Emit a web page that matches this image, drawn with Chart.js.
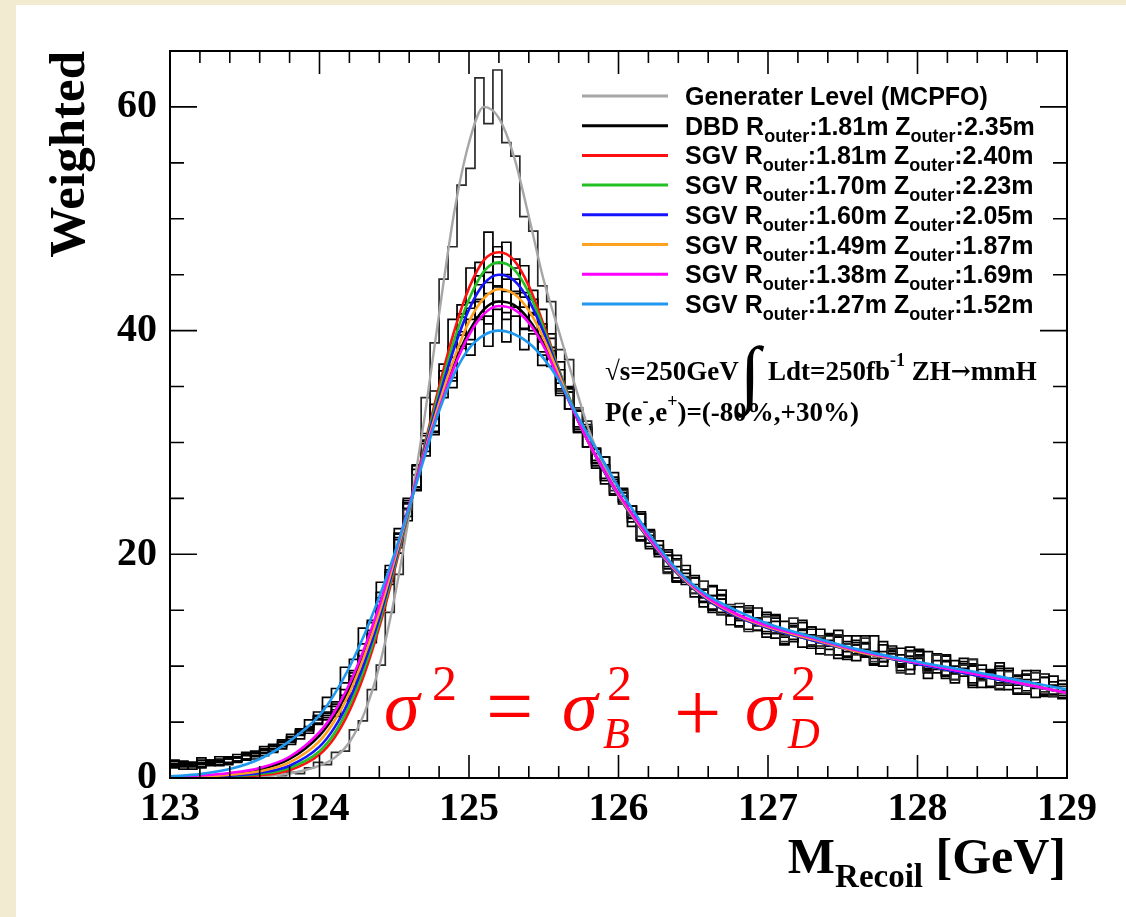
<!DOCTYPE html>
<html>
<head>
<meta charset="utf-8">
<title>M Recoil</title>
<script src="https://cdn.jsdelivr.net/npm/chart.js@4.4.1/dist/chart.umd.min.js"></script>
<style>
  html, body { margin: 0; padding: 0; background: #f3ead2; }
  #paper { position: absolute; left: 16px; top: 5px; right: 0; bottom: 0; background: #fff; }
  canvas { position: absolute; left: 0; top: 0; }
</style>
</head>
<body>
<div id="paper"></div>
<canvas id="recoil" width="1126" height="917"></canvas>
<script>
// histogram binning: 100 bins of 0.06 GeV from 123 GeV
const binStart = 123.0;
const binWidth = 0.06;

// generator level histogram (MCPFO)
const genHist = [0, 0, 0, 0, 0, 0, 0.1, 0, 0.1, 0.2, 0.1, 0.3, 0.2, 0.5, 0.4, 0.9, 1.4,
  1.2, 2.3, 2.4, 4.3, 5.1, 7.9, 10.1, 14.8, 18.2,
  24.0, 27.1, 34.0, 38.9, 44.6, 47.5, 53.0, 54.5, 62.6, 58.5, 63.3, 56.8, 55.6, 50.2, 48.9, 44.0, 42.6, 38.3, 37.4, 33.1, 31.9, 29.0,
  27.9, 25.7, 25.7, 23.5, 21.6, 22.0, 20.5, 18.3, 19.5, 18.0, 16.5, 17.6, 15.6, 14.6, 15.5, 15.6, 13.1, 14.2, 14.4, 13.0,
  12.2, 14.3, 12.9, 11.9, 12.7, 11.0, 12.8, 12.0, 11.0, 12.5, 10.4, 10.8, 11.5, 9.4, 11.3, 10.8, 9.5, 11.0, 9.6, 8.8,
  10.1, 10.6, 8.7, 9.2, 8.0, 9.5, 8.9, 7.6, 9.4, 7.7, 7.3, 8.2];
// DBD full simulation
const dbdHist = [1.2, 0.8, 1.4, 1.0, 1.5, 1.1, 1.8, 1.4, 2.2, 1.9, 2.6, 2.3, 3.3, 3.0, 4.2, 4.0, 5.6,
  5.9, 6.8, 7.1, 9.6, 10.5, 13.9, 15.2, 19.0, 20.6,
  24.5, 26.0, 30.2, 31.0, 35.1, 35.8, 39.6, 39.2, 42.8, 41.3, 44.0, 41.6, 43.5, 40.2, 41.5, 38.1, 38.2, 34.6, 34.5, 31.2, 31.0, 28.2,
  28.7, 25.3, 24.7, 24.3, 21.3, 21.7, 21.2, 18.9, 17.6, 19.0, 16.9, 15.7, 16.3, 16.4, 13.7, 14.5, 14.9, 13.6, 14.8, 12.5,
  12.9, 13.5, 11.7, 13.3, 12.5, 11.5, 13.2, 10.9, 11.1, 12.1, 10.2, 11.3, 11.8, 10.2, 9.3, 11.0, 10.1, 11.0, 9.2, 9.4,
  10.4, 8.3, 9.7, 9.7, 8.5, 8.5, 9.1, 7.6, 8.5, 9.0, 7.3, 7.6];
// SGV fast simulation, one per detector size
const sgv181Hist = [0.9, 1.3, 1.0, 1.2, 1.6, 1.2, 1.4, 1.9, 1.6, 2.0, 2.2, 2.8, 2.6, 3.4, 3.8, 4.3, 4.9,
  5.2, 5.9, 7.4, 8.2, 10.6, 12.5, 15.8, 17.6, 21.5,
  24.1, 28.0, 29.2, 34.6, 35.8, 41.0, 41.2, 45.6, 44.1, 48.8, 46.0, 47.9, 44.6, 45.8, 41.6, 41.9, 37.5, 37.2, 33.0, 32.9, 29.6, 29.4,
  26.8, 26.7, 25.9, 22.5, 22.7, 22.1, 20.0, 18.4, 19.9, 17.9, 16.5, 16.8, 14.8, 16.3, 15.3, 14.1, 15.4, 13.2, 13.5, 14.0,
  11.9, 13.8, 13.2, 11.8, 13.3, 11.8, 11.0, 12.2, 12.7, 10.8, 11.3, 10.0, 11.6, 11.0, 9.7, 11.5, 9.8, 9.4, 10.4, 10.0,
  9.1, 10.2, 9.1, 8.2, 9.6, 8.9, 7.5, 9.3, 8.5, 7.5, 9.1, 7.4];
const sgv170Hist = [1.1, 1.0, 0.8, 1.4, 1.2, 1.7, 1.3, 1.5, 2.1, 1.7, 2.5, 2.4, 2.9, 3.6, 3.5, 4.6, 4.8,
  5.6, 5.5, 7.0, 9.1, 10.2, 12.9, 15.0, 18.4, 20.1,
  23.0, 27.6, 30.8, 32.1, 37.0, 37.6, 42.3, 42.0, 46.1, 44.3, 47.5, 44.6, 46.4, 43.0, 43.6, 39.5, 39.7, 35.3, 35.0, 31.4, 31.2, 28.1,
  26.3, 26.1, 25.5, 23.3, 23.6, 20.5, 20.1, 19.9, 17.5, 18.6, 17.3, 15.8, 17.2, 14.6, 14.6, 15.3, 13.3, 14.3, 14.6, 12.9,
  12.0, 13.6, 12.7, 13.5, 11.6, 11.8, 12.7, 10.6, 11.9, 12.0, 10.7, 10.7, 11.4, 9.9, 10.7, 11.3, 9.6, 9.9, 11.0, 8.8,
  9.4, 10.0, 8.1, 9.4, 9.8, 8.3, 7.6, 9.6, 8.1, 7.4, 8.3, 8.7];
const sgv160Hist = [1.3, 1.1, 1.2, 0.9, 1.4, 1.5, 1.2, 1.8, 1.7, 2.3, 2.0, 2.6, 3.0, 3.2, 4.1, 4.2, 5.2,
  5.4, 6.4, 6.9, 8.6, 10.9, 12.1, 15.4, 17.8, 21.3,
  24.8, 25.7, 30.6, 31.5, 36.4, 36.9, 41.5, 41.0, 44.9, 43.3, 46.6, 43.5, 45.6, 42.1, 42.8, 39.0, 39.3, 34.8, 34.9, 30.9, 31.3, 27.7,
  28.7, 25.4, 24.7, 24.3, 21.2, 22.2, 20.8, 18.7, 19.6, 17.5, 16.2, 16.9, 17.1, 14.8, 15.1, 13.6, 15.0, 14.3, 12.9, 14.5,
  12.8, 12.4, 13.3, 12.8, 11.8, 12.9, 11.7, 10.8, 12.1, 11.5, 10.1, 11.9, 11.1, 10.1, 11.7, 10.1, 9.4, 10.5, 10.9, 8.5,
  9.8, 10.1, 8.9, 8.1, 10.3, 8.9, 8.0, 8.8, 7.2, 9.0, 8.2, 7.2];
const sgv149Hist = [1.0, 1.4, 1.1, 1.3, 1.1, 1.6, 1.7, 1.5, 2.0, 2.2, 2.3, 2.9, 2.8, 3.7, 3.9, 4.4, 5.5,
  5.8, 6.1, 7.9, 8.8, 11.4, 12.4, 16.1, 17.3, 21.9,
  23.4, 27.9, 28.8, 33.4, 34.0, 38.6, 38.4, 42.5, 41.0, 45.2, 42.6, 45.0, 42.1, 43.4, 40.0, 40.6, 36.8, 36.5, 33.0, 32.8, 29.6, 29.5,
  26.6, 26.5, 25.8, 23.2, 21.3, 22.0, 20.3, 20.4, 17.9, 17.5, 17.9, 15.3, 16.3, 16.0, 14.5, 14.3, 14.8, 13.2, 13.9, 14.3,
  12.6, 12.9, 13.9, 11.6, 12.1, 12.7, 10.7, 12.0, 12.3, 10.9, 10.2, 12.2, 10.7, 10.0, 10.9, 11.4, 8.9, 9.9, 10.5, 9.3,
  10.7, 8.5, 9.0, 9.6, 7.9, 9.6, 8.8, 7.8, 9.6, 7.3, 7.5, 8.4];
const sgv138Hist = [1.5, 1.2, 1.3, 1.6, 1.3, 1.4, 1.9, 1.8, 1.7, 2.4, 2.5, 2.6, 3.2, 3.3, 4.3, 4.5, 5.3,
  6.4, 6.6, 8.5, 9.4, 12.0, 13.2, 16.6, 17.9, 21.8,
  25.0, 26.0, 30.1, 30.9, 35.2, 35.5, 39.9, 38.8, 42.6, 40.6, 43.9, 41.0, 43.3, 40.1, 41.4, 37.8, 38.5, 34.4, 34.8, 30.9, 31.4, 27.9,
  26.6, 26.9, 25.2, 22.9, 23.6, 21.0, 19.8, 19.9, 18.9, 17.3, 17.9, 16.2, 15.0, 16.0, 15.1, 13.5, 15.2, 14.2, 13.1, 14.6,
  12.9, 12.2, 13.3, 13.5, 11.1, 12.3, 12.6, 11.3, 10.5, 12.7, 11.3, 10.4, 11.3, 9.6, 11.4, 10.7, 9.7, 11.1, 9.1, 9.5,
  10.2, 8.1, 10.1, 9.5, 8.3, 9.8, 8.3, 7.5, 8.8, 9.3, 7.3, 7.8];
const sgv127Hist = [1.6, 1.5, 1.4, 1.8, 1.6, 1.9, 1.7, 2.1, 2.3, 2.2, 2.8, 3.0, 3.4, 3.9, 4.4, 5.2, 5.9,
  7.2, 8.0, 9.9, 10.6, 13.4, 14.1, 17.5, 18.6, 22.3,
  24.6, 25.8, 29.9, 30.7, 34.8, 34.9, 38.6, 37.8, 41.2, 38.6, 41.9, 39.0, 41.3, 38.3, 39.7, 36.9, 37.5, 34.2, 34.5, 31.0, 31.6, 28.4,
  28.0, 27.3, 24.5, 23.8, 23.8, 20.7, 20.4, 20.2, 17.6, 18.3, 18.1, 16.1, 15.1, 16.8, 15.0, 14.1, 14.9, 15.2, 12.6, 13.5,
  14.0, 12.8, 14.1, 11.8, 12.2, 12.8, 11.0, 12.7, 11.9, 11.0, 12.7, 10.4, 10.7, 11.6, 9.7, 10.9, 11.3, 9.7, 8.9, 10.5,
  9.7, 10.6, 8.8, 9.0, 10.0, 7.9, 9.2, 9.2, 8.0, 8.0, 8.6, 7.1];

// fitted curves, sampled at fitX (GeV)
const fitX = [123.0, 123.2, 123.4, 123.6, 123.8, 124.0, 124.1, 124.2, 124.3, 124.4, 124.5, 124.6, 124.7, 124.8, 124.9,
  125.0, 125.1, 125.2, 125.3, 125.4, 125.5, 125.6, 125.7, 125.8, 125.9, 126.0, 126.2, 126.4, 126.6, 126.8,
  127.0, 127.3, 127.6, 128.0, 128.5, 129.0];
const genFit = [0.0, 0.01, 0.05, 0.15, 0.4, 1.1, 1.8, 3.2, 5.8, 10.0, 16.0, 23.5, 32.0, 41.5, 50.5,
  56.8, 60.0, 59.0, 55.6, 50.2, 44.5, 40.0, 35.5, 31.2, 28.0, 25.5, 21.5, 18.3, 16.0, 14.5,
  13.5, 12.4, 11.3, 10.3, 9.0, 7.6];
const dbdFit = [0.08, 0.18, 0.38, 0.75, 1.7, 3.8, 5.6, 8.1, 11.3, 15.1, 19.6, 24.3, 28.9, 33.1, 36.9,
  39.9, 41.9, 42.6, 42.3, 41.0, 38.8, 35.8, 32.8, 30.0, 27.6, 25.3, 21.5, 18.3, 16.0, 14.5,
  13.5, 12.4, 11.3, 10.3, 9.0, 7.6];
const fit181 = [0.02, 0.05, 0.1, 0.25, 0.7, 2.1, 3.6, 6.0, 9.3, 13.5, 18.5, 24.0, 29.6, 35.0, 39.9,
  43.8, 46.3, 47.0, 46.3, 44.0, 40.5, 36.6, 33.0, 30.0, 27.5, 25.2, 21.4, 18.2, 15.9, 14.4,
  13.4, 12.3, 11.3, 10.2, 8.9, 7.6];
const fit170 = [0.03, 0.07, 0.15, 0.35, 0.9, 2.4, 4.0, 6.5, 9.8, 13.9, 18.8, 24.0, 29.4, 34.5, 39.1,
  42.8, 45.3, 46.1, 45.5, 43.4, 40.2, 36.5, 33.0, 30.0, 27.5, 25.2, 21.4, 18.2, 15.9, 14.4,
  13.4, 12.3, 11.3, 10.2, 8.9, 7.6];
const fit160 = [0.04, 0.1, 0.2, 0.45, 1.1, 2.8, 4.5, 7.0, 10.3, 14.3, 19.1, 24.1, 29.2, 34.0, 38.4,
  41.9, 44.2, 45.0, 44.5, 42.7, 39.8, 36.3, 32.9, 30.0, 27.5, 25.2, 21.4, 18.2, 15.9, 14.4,
  13.4, 12.3, 11.3, 10.2, 8.9, 7.6];
const fit149 = [0.06, 0.14, 0.3, 0.6, 1.4, 3.3, 5.1, 7.6, 10.9, 14.8, 19.4, 24.2, 29.0, 33.5, 37.5,
  40.8, 42.9, 43.7, 43.3, 41.8, 39.3, 36.1, 32.9, 30.0, 27.6, 25.3, 21.5, 18.3, 16.0, 14.5,
  13.5, 12.4, 11.3, 10.3, 9.0, 7.6];
const fit138 = [0.1, 0.22, 0.45, 0.9, 1.9, 4.1, 5.9, 8.4, 11.6, 15.4, 19.8, 24.4, 28.9, 33.0, 36.7,
  39.6, 41.5, 42.2, 41.9, 40.7, 38.6, 35.7, 32.8, 30.0, 27.6, 25.4, 21.6, 18.4, 16.1, 14.6,
  13.6, 12.5, 11.4, 10.3, 9.0, 7.6];
const fit127 = [0.15, 0.35, 0.8, 1.7, 3.3, 5.6, 7.5, 9.9, 12.8, 16.2, 20.0, 24.2, 28.6, 32.8, 36.1,
  38.4, 39.6, 40.0, 39.7, 38.9, 37.5, 35.6, 33.0, 30.6, 28.3, 26.0, 21.9, 18.5, 16.3, 14.9,
  13.8, 12.6, 11.5, 10.4, 9.2, 7.9];

// axes
const xTicks = [123, 124, 125, 126, 127, 128, 129];
const yTicks = [0, 20, 40, 60];

// legend text
const detNames = ['Generater Level (MCPFO)', 'DBD', 'SGV', 'SGV', 'SGV', 'SGV', 'SGV', 'SGV'];
const rOuter = ['', '1.81', '1.81', '1.70', '1.60', '1.49', '1.38', '1.27'];
const zOuter = ['', '2.35', '2.40', '2.23', '2.05', '1.87', '1.69', '1.52'];

// styles
const lineColors = ['#a6a6a6', '#000000', '#ff1010', '#22c022', '#1414ff', '#ffa01e', '#ff00ff', '#1e98f0'];
const SERIF = '"Liberation Serif", "Times New Roman", serif';
const SANS = '"Liberation Sans", Arial, sans-serif';

function histPoints(vals) {
  const pts = vals.map((v, i) => ({x: binStart + i * binWidth, y: v}));
  pts.push({x: binStart + vals.length * binWidth, y: vals[vals.length - 1]});
  return pts;
}
function fitPoints(vals) {
  return vals.map((v, i) => ({x: fitX[i], y: v}));
}

const fits = [genFit, dbdFit, fit181, fit170, fit160, fit149, fit138, fit127];
const hists = [genHist, dbdHist, sgv181Hist, sgv170Hist, sgv160Hist, sgv149Hist, sgv138Hist, sgv127Hist];

const datasets = [];
// first dataset is drawn on top: colored fits first, in reverse legend order
for (let i = fits.length - 1; i >= 0; i--) {
  datasets.push({
    label: detNames[i] + ' fit',
    data: fitPoints(fits[i]),
    borderColor: lineColors[i],
    borderWidth: i === 0 ? 2.4 : 2.6,
    pointRadius: 0,
    cubicInterpolationMode: 'monotone',
    fill: false
  });
}
hists.forEach((h, i) => {
  datasets.push({
    label: detNames[i] + ' hist',
    data: histPoints(h),
    borderColor: i === 0 ? '#2a2a2a' : '#000',
    borderWidth: 1.7,
    pointRadius: 0,
    stepped: true,
    fill: false
  });
});

function drawRuns(ctx, x, y, runs) {
  for (const r of runs) {
    ctx.font = r.f;
    ctx.fillText(r.t, x, y + (r.dy || 0));
    x += ctx.measureText(r.t).width;
  }
  return x;
}
function runsWidth(ctx, runs) {
  let w = 0;
  for (const r of runs) { ctx.font = r.f; w += ctx.measureText(r.t).width; }
  return w;
}

// ROOT style frame with inward ticks on all four sides
const frameTicks = {
  id: 'frameTicks',
  afterDatasetsDraw(chart) {
    const {ctx, chartArea: a, scales: {x, y}} = chart;
    ctx.save();
    ctx.strokeStyle = '#000';
    ctx.lineWidth = 2;
    ctx.strokeRect(a.left, a.top, a.right - a.left, a.bottom - a.top);
    ctx.lineWidth = 1.6;
    ctx.beginPath();
    for (let k = 0; k <= 30; k++) {
      const v = 123 + k * 0.2;
      const px = x.getPixelForValue(v);
      const len = k % 5 === 0 ? 23 : 12;
      ctx.moveTo(px, a.bottom); ctx.lineTo(px, a.bottom - len);
      ctx.moveTo(px, a.top); ctx.lineTo(px, a.top + len);
    }
    for (let v = 0; v <= 65; v += 5) {
      const py = y.getPixelForValue(v);
      const len = v % 20 === 0 ? 27 : 14;
      ctx.moveTo(a.left, py); ctx.lineTo(a.left + len, py);
      ctx.moveTo(a.right, py); ctx.lineTo(a.right - len, py);
    }
    ctx.stroke();
    ctx.restore();
  }
};

const texts = {
  id: 'texts',
  afterDraw(chart) {
    const ctx = chart.ctx;
    ctx.save();
    ctx.fillStyle = '#000';
    ctx.textBaseline = 'alphabetic';
    ctx.textAlign = 'left';

    // legend
    const main = 'bold 25px ' + SANS, sub = 'bold 18px ' + SANS;
    for (let i = 0; i < detNames.length; i++) {
      const ly = 96 + i * 29.7;
      ctx.strokeStyle = lineColors[i];
      ctx.lineWidth = 3;
      ctx.beginPath(); ctx.moveTo(582, ly); ctx.lineTo(668, ly); ctx.stroke();
      if (i === 0) {
        drawRuns(ctx, 685, ly + 9, [{t: detNames[0], f: main}]);
      } else {
        drawRuns(ctx, 685, ly + 9, [
          {t: detNames[i] + ' R', f: main},
          {t: 'outer', f: sub, dy: 7},
          {t: ':' + rOuter[i] + 'm Z', f: main},
          {t: 'outer', f: sub, dy: 7},
          {t: ':' + zOuter[i] + 'm', f: main}
        ]);
      }
    }

    // beam conditions
    const ann = 'bold 27px ' + SERIF, annSup = 'bold 18px ' + SERIF;
    drawRuns(ctx, 605, 380, [{t: '\u221As=250GeV', f: ann}]);
    drawRuns(ctx, 740, 398, [{t: '\u222B', f: '74px ' + SERIF}]);
    drawRuns(ctx, 768, 380, [
      {t: 'Ldt=250fb', f: ann},
      {t: '-1', f: annSup, dy: -14},
      {t: ' ZH', f: ann},
      {t: '\u2192', f: 'bold 24px "DejaVu Serif", serif', dy: -1},
      {t: 'mmH', f: ann}
    ]);
    drawRuns(ctx, 605, 421, [
      {t: 'P(e', f: ann},
      {t: '-', f: annSup, dy: -14},
      {t: ',e', f: ann},
      {t: '+', f: annSup, dy: -14},
      {t: ')=(-80%,+30%)', f: ann}
    ]);

    // resolution formula
    ctx.fillStyle = '#ff0000';
    const sig = 'italic 72px ' + SERIF, two = '50px ' + SERIF, op = '84px ' + SERIF, idx = 'italic 44px ' + SERIF;
    drawRuns(ctx, 384, 730, [{t: '\u03C3', f: sig}]);
    drawRuns(ctx, 432, 700, [{t: '2', f: two}]);
    drawRuns(ctx, 486, 735, [{t: '=', f: op}]);
    drawRuns(ctx, 562, 730, [{t: '\u03C3', f: sig}]);
    drawRuns(ctx, 607, 700, [{t: '2', f: two}]);
    drawRuns(ctx, 603, 748, [{t: 'B', f: idx}]);
    drawRuns(ctx, 674, 741, [{t: '+', f: op}]);
    drawRuns(ctx, 745, 730, [{t: '\u03C3', f: sig}]);
    drawRuns(ctx, 791, 700, [{t: '2', f: two}]);
    drawRuns(ctx, 788, 748, [{t: 'D', f: idx}]);

    // axis titles
    ctx.fillStyle = '#000';
    const xt = [
      {t: 'M', f: 'bold 50px ' + SERIF},
      {t: 'Recoil', f: 'bold 33px ' + SERIF, dy: 14},
      {t: ' [GeV]', f: 'bold 50px ' + SERIF}
    ];
    drawRuns(ctx, 1066 - runsWidth(ctx, xt), 873, xt);

    ctx.translate(84, 51);
    ctx.rotate(-Math.PI / 2);
    ctx.textAlign = 'right';
    ctx.font = 'bold 51px ' + SERIF;
    ctx.fillText('Weighted', 0, 0);
    ctx.restore();
  }
};

const tickFont = {family: SERIF, weight: 'bold', size: 40};

new Chart(document.getElementById('recoil'), {
  type: 'line',
  data: {datasets: datasets},
  options: {
    responsive: false,
    animation: false,
    layout: {padding: {left: 0, top: 51, right: 59, bottom: 0}},
    plugins: {legend: {display: false}, tooltip: {enabled: false}},
    scales: {
      x: {
        type: 'linear', min: 123, max: 129,
        afterBuildTicks: s => { s.ticks = xTicks.map(v => ({value: v})); },
        afterFit: s => { s.height = 139; },
        grid: {display: false, drawTicks: false},
        border: {display: false},
        ticks: {font: tickFont, color: '#000', padding: 8, maxRotation: 0, autoSkip: false}
      },
      y: {
        type: 'linear', min: 0, max: 65,
        afterBuildTicks: s => { s.ticks = yTicks.map(v => ({value: v})); },
        afterFit: s => { s.width = 170; },
        grid: {display: false, drawTicks: false},
        border: {display: false},
        ticks: {font: tickFont, color: '#000', padding: 13}
      }
    }
  },
  plugins: [frameTicks, texts]
});
</script>
</body>
</html>
